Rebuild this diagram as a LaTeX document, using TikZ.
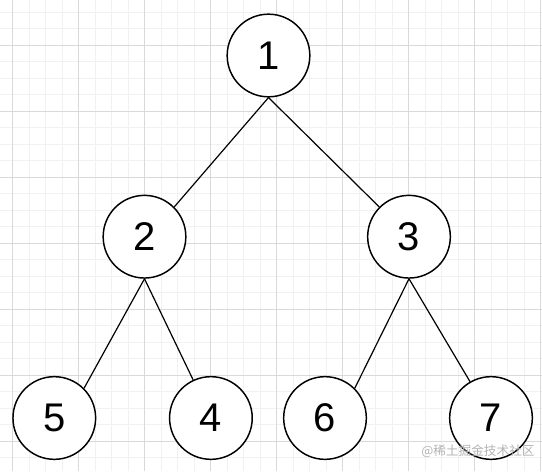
\documentclass[tikz,border=0pt]{standalone}
\usepackage{fontspec}
\setmainfont{Liberation Sans}
\newfontfamily\cjkfont{Noto Sans CJK SC}
\usepackage{xcolor}
\definecolor{gridmajor}{HTML}{D9D9D9}
\definecolor{gridminor}{HTML}{F1F1F1}
\definecolor{markgray}{HTML}{B5B5B5}

\begin{document}
\begin{tikzpicture}[x=0.75pt,y=-0.75pt,
  treenode/.style={circle,draw=black,line width=1.1pt,fill=white,minimum size=62pt,inner sep=0pt,font=\fontsize{30}{30}\selectfont},
  treeedge/.style={line width=0.9pt}]
\useasboundingbox (0,0) rectangle (542,471);
\fill[white] (0,0) rectangle (542,471);
% minor grid
\foreach \k in {0,...,33} {
  \draw[gridminor,line width=0.6pt] ({12.5+16.5*(\k-1)},0) -- ({12.5+16.5*(\k-1)},471);
  \draw[gridminor,line width=0.6pt] (0,{-21+16.5*\k}) -- (542,{-21+16.5*\k});
}
% major grid
\foreach \k in {0,...,8} {
  \draw[gridmajor,line width=0.75pt] ({12.5+66*\k},0) -- ({12.5+66*\k},471);
  \draw[gridmajor,line width=0.75pt] (0,{45+66*\k}) -- (542,{45+66*\k});
}
\node[treenode] (n1) at (268.5,55.5) {1};
\node[treenode] (n2) at (144.5,236.7) {2};
\node[treenode] (n3) at (409,236.7) {3};
\node[treenode] (n5) at (54.3,418) {5};
\node[treenode] (n4) at (210.9,418) {4};
\node[treenode] (n6) at (325,418) {6};
\node[treenode] (n7) at (491,418) {7};
\draw[treeedge] (n1.south) -- (n2.north east);
\draw[treeedge] (n1.south) -- (n3.north west);
\draw[treeedge] (n2.south) -- (n5.north east);
\draw[treeedge] (n2.south) -- (n4.115);
\draw[treeedge] (n3.south) -- (n6.north east);
\draw[treeedge] (n3.south) -- (n7.120);
\node[text=markgray,font=\cjkfont\fontsize{9.5}{10}\selectfont,inner sep=0pt] (mark) at (478,451) {@稀土掘金技术社区};
\end{tikzpicture}
\end{document}
